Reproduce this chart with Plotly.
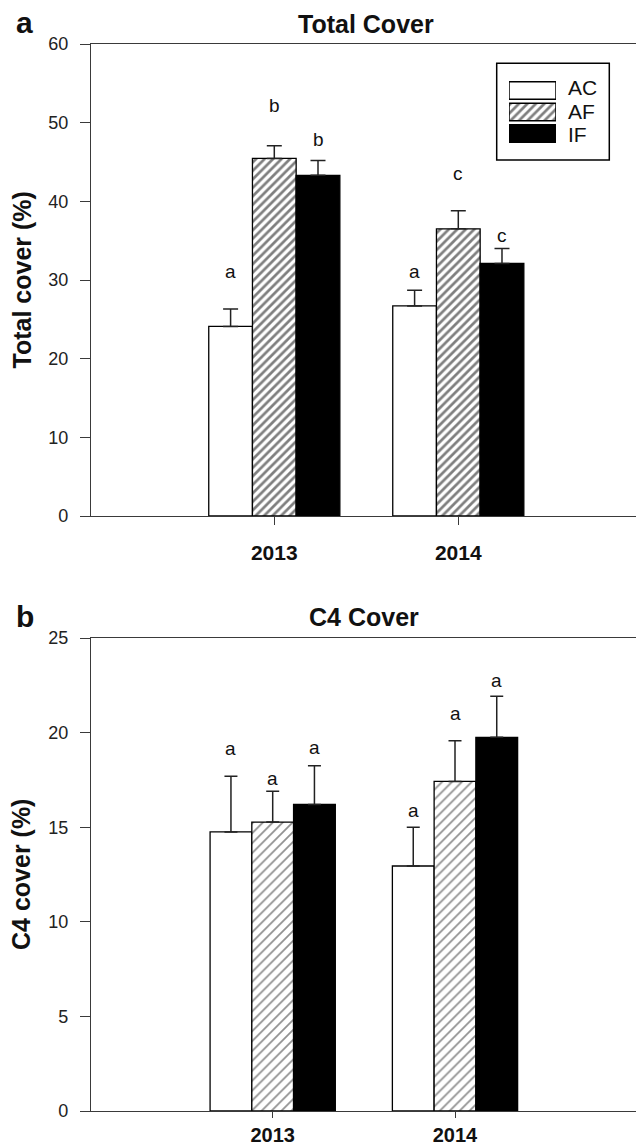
import plotly.graph_objects as go

W, H = 636, 1144
FONT = "Liberation Sans, Arial, sans-serif"

# ---------------- data ----------------
years = ["2013", "2014"]
treatments = ["AC", "AF", "IF"]

total_ac = [24.1, 26.7]
total_af = [45.45, 36.5]
total_if = [43.3, 32.1]
total_ac_err = [2.2, 2.0]
total_af_err = [1.6, 2.3]
total_if_err = [1.9, 1.9]
total_ac_lab = ["a", "a"]
total_af_lab = ["b", "c"]
total_if_lab = ["b", "c"]
total_ac_lab_y = [31.1, 31.1]
total_af_lab_y = [52.2, 43.5]
total_if_lab_y = [47.9, 35.6]

c4_ac = [14.75, 12.95]
c4_af = [15.27, 17.42]
c4_if = [16.2, 19.75]
c4_ac_err = [2.94, 2.05]
c4_af_err = [1.63, 2.15]
c4_if_err = [2.05, 2.17]
c4_ac_lab = ["a", "a"]
c4_af_lab = ["a", "a"]
c4_if_lab = ["a", "a"]
c4_ac_lab_y = [19.17, 15.86]
c4_af_lab_y = [17.6, 21.02]
c4_if_lab_y = [19.2, 22.78]

legend_rows = ["IF", "AF", "AC"]      # bottom to top
legend_len = [1, 1, 1]


def py(p):
    return 1 - p / H


def px(p):
    return p / W


fig = go.Figure()

styles = {
    "AC": dict(color="white"),
    "AF_top": dict(color="white", pattern=dict(shape="/", size=6, solidity=0.45,
                                               fgcolor="black", bgcolor="white", fillmode="overlay")),
    "AF_bot": dict(color="white", pattern=dict(shape="/", size=7, solidity=0.25,
                                               fgcolor="#222222", bgcolor="white", fillmode="overlay")),
    "IF": dict(color="black"),
}


def add_panel(vals, errs, labs, laby, xa, ya, wbar, afstyle, capw):
    keys = ["AC", afstyle, "IF"]
    offs = [-1.5, -0.5, 0.5]
    for i, name in enumerate(treatments):
        st = styles[keys[i]]
        marker = dict(color=st["color"], line=dict(color="black", width=1.3))
        if "pattern" in st:
            marker["pattern"] = st["pattern"]
        fig.add_trace(go.Bar(
            x=years, y=vals[i], name=name, xaxis=xa, yaxis=ya,
            width=wbar, offset=offs[i] * wbar, marker=marker, showlegend=False,
            error_y=dict(type="data", array=errs[i], arrayminus=[0, 0], symmetric=False,
                         color="#222222", thickness=1.5, width=capw),
        ))
        for j in range(len(years)):
            fig.add_annotation(
                x=j + (offs[i] + 0.5) * wbar, y=laby[i][j], xref=xa, yref=ya,
                text=labs[i][j], showarrow=False, yanchor="middle",
                font=dict(family=FONT, size=19, color="#111111"))


add_panel([total_ac, total_af, total_if], [total_ac_err, total_af_err, total_if_err],
          [total_ac_lab, total_af_lab, total_if_lab],
          [total_ac_lab_y, total_af_lab_y, total_if_lab_y],
          "x", "y", 0.2375, "AF_top", 7.5)
add_panel([c4_ac, c4_af, c4_if], [c4_ac_err, c4_af_err, c4_if_err],
          [c4_ac_lab, c4_af_lab, c4_if_lab],
          [c4_ac_lab_y, c4_af_lab_y, c4_if_lab_y],
          "x2", "y2", 0.229, "AF_bot", 6.5)

# legend swatches on a hidden axis
leg_styles = {"AC": styles["AC"], "AF": styles["AF_top"], "IF": styles["IF"]}
for name, ln in zip(legend_rows, legend_len):
    st = leg_styles[name]
    marker = dict(color=st["color"], line=dict(color="black", width=1.5))
    if "pattern" in st:
        marker["pattern"] = st["pattern"]
    fig.add_trace(go.Bar(x=[ln], y=[name], orientation="h", xaxis="x3", yaxis="y3",
                         width=0.82, marker=marker, showlegend=False))

axis_col = "#3a3a3a"
tickfont = dict(family=FONT, size=18, color="#222222")
xtickfont = dict(family=FONT, size=21, color="#111111", weight="bold")

common_x = dict(type="category", showline=True, linecolor=axis_col, linewidth=1.3,
                mirror=True, ticks="outside", ticklen=8, tickwidth=1.3, tickcolor=axis_col,
                tickfont=xtickfont, showgrid=False, zeroline=False,
                domain=[px(91), 1], automargin=False)
common_y = dict(showline=True, linecolor=axis_col, linewidth=1.3, ticks="outside",
                ticklen=10, tickwidth=1.3, tickcolor=axis_col, tickfont=tickfont,
                showgrid=False, zeroline=False, ticklabelstandoff=8, automargin=False)

fig.update_layout(
    width=W, height=H, margin=dict(l=0, r=0, t=0, b=0, autoexpand=False),
    paper_bgcolor="white", plot_bgcolor="white", barmode="overlay",
    font=dict(family=FONT),
    xaxis=dict(common_x, anchor="y", range=[-0.9962, 1.9658], ticklabelstandoff=10),
    yaxis=dict(common_y, anchor="x", domain=[py(516), py(44)], range=[0, 60], dtick=10),
    xaxis2=dict(common_x, anchor="y2", range=[-0.9967, 1.9929], ticklen=6,
                ticklabelstandoff=0,
                tickfont=dict(family=FONT, size=20, color="#111111", weight="bold")),
    yaxis2=dict(common_y, anchor="x2", domain=[py(1111), py(638)], range=[0, 25], dtick=5),
    xaxis3=dict(domain=[px(509), px(556)], anchor="y3", range=[0, 1], visible=False,
                automargin=False),
    yaxis3=dict(domain=[py(144.3), py(79.7)], anchor="x3", type="category",
                range=[-0.5, 2.5], visible=False, automargin=False),
)

# legend box and labels
fig.add_shape(type="rect", xref="paper", yref="paper", x0=px(496.7), x1=px(609.3),
              y0=py(160), y1=py(63.3), line=dict(color="black", width=1.5))
for name, yc in zip(["AC", "AF", "IF"], [87.3, 111, 134.3]):
    fig.add_annotation(x=px(566), y=py(yc), xref="paper", yref="paper", text=name,
                       showarrow=False, xanchor="left", yanchor="middle",
                       font=dict(family=FONT, size=21, color="#111111"))

# titles, panel letters, axis titles
texts = [
    ("Total Cover", 366, 24, 25, 0),
    ("C4 Cover", 364, 617, 25, 0),
    ("a", 24, 22, 30, 0),
    ("b", 25, 616, 30, 0),
    ("Total cover (%)", 21.5, 280, 25, -90),
    ("C4 cover (%)", 21.5, 874.5, 25, -90),
]
for t, x, y, s, ang in texts:
    fig.add_annotation(x=px(x), y=py(y), xref="paper", yref="paper", text=t,
                       showarrow=False, xanchor="center", yanchor="middle", textangle=ang,
                       font=dict(family=FONT, size=s, color="#111111", weight="bold"))

fig.write_html("out.html")
